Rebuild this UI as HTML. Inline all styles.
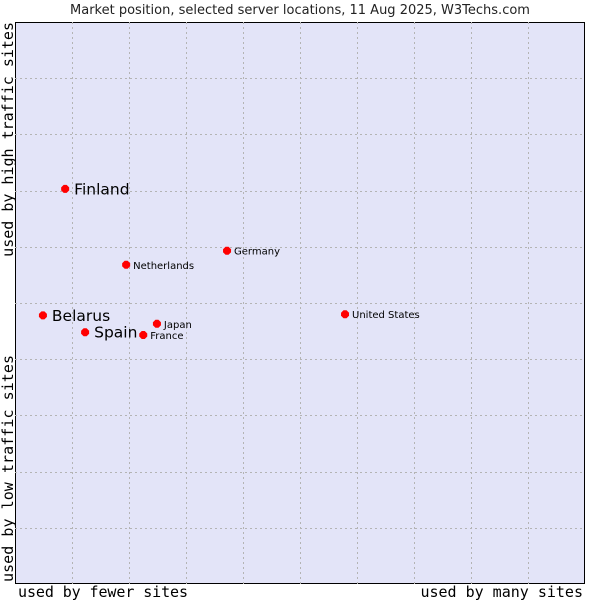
<!DOCTYPE html>
<html><head><meta charset="utf-8"><style>
body{margin:0;background:#fff;}
svg{display:block;font-family:"DejaVu Sans","Liberation Sans",sans-serif;}
</style></head><body>
<svg id="chart" width="600" height="600">
<text x="300" y="14" text-anchor="middle" font-size="13" fill="#222">Market position, selected server locations, 11 Aug 2025, W3Techs.com</text>
<rect x="15.5" y="22.5" width="569" height="561" fill="#e3e4f8" stroke="#000"/>
<g id="grid"></g>
<g id="points"></g>
<text x="18" y="597" font-family="DejaVu Sans Mono,Liberation Mono,monospace" font-size="15" textLength="170" fill="#000">used by fewer sites</text>
<text x="583" y="597" text-anchor="end" font-family="DejaVu Sans Mono,Liberation Mono,monospace" font-size="15" fill="#000">used by many sites</text>
<text transform="translate(13,582) rotate(-90)" font-family="DejaVu Sans Mono,Liberation Mono,monospace" font-size="15" textLength="227" fill="#000">used by low traffic sites</text>
<text transform="translate(13,22) rotate(-90)" text-anchor="end" font-family="DejaVu Sans Mono,Liberation Mono,monospace" font-size="15" fill="#000">used by high traffic sites</text>
</svg>
<script>
const countries=["Finland","Netherlands","Germany","Belarus","Spain","Japan","France","United States"];
const xValues=[0.88,1.95,3.72,0.49,1.23,2.49,2.25,5.79];
const yValues=[7.03,5.68,5.93,4.78,4.48,4.63,4.43,4.8];
const bigLabel=[true,false,false,true,true,false,false,false];
const L=15,R=585,T=22,B=584;
const sx=v=>L+v*(R-L)/10, sy=v=>B-v*(B-T)/10;
const ns="http://www.w3.org/2000/svg";
const grid=document.getElementById('grid');
for(let i=1;i<10;i++){
  const v=document.createElementNS(ns,'line');
  v.setAttribute('x1',Math.round(sx(i))+0.5);v.setAttribute('x2',Math.round(sx(i))+0.5);
  v.setAttribute('y1',T);v.setAttribute('y2',B);
  v.setAttribute('stroke','#b4b4b4');v.setAttribute('stroke-dasharray','2,3');
  
  
  grid.appendChild(v);
  const h=document.createElementNS(ns,'line');
  h.setAttribute('y1',Math.round(sy(i))+0.5);h.setAttribute('y2',Math.round(sy(i))+0.5);
  h.setAttribute('x1',L);h.setAttribute('x2',R);
  h.setAttribute('stroke','#b4b4b4');h.setAttribute('stroke-dasharray','2,3');
  
  
  grid.appendChild(h);
}
const pts=document.getElementById('points');
countries.forEach((c,i)=>{
  const x=sx(xValues[i]),y=sy(yValues[i]);
  const d=document.createElementNS(ns,'path');
  d.setAttribute('d',`M${x-4} ${y-1.5}L${x-1.5} ${y-4}L${x+1.5} ${y-4}L${x+4} ${y-1.5}L${x+4} ${y+1.5}L${x+1.5} ${y+4}L${x-1.5} ${y+4}L${x-4} ${y+1.5}Z`);
  d.setAttribute('fill','#ff0000');
  
  
  pts.appendChild(d);
  const t=document.createElementNS(ns,'text');
  t.setAttribute('x',x+(bigLabel[i]?9:7));
  t.setAttribute('y',y+(bigLabel[i]?5.5:4));
  t.setAttribute('font-size',bigLabel[i]?15.5:10);
  t.setAttribute('fill','#000');
  t.textContent=c;
  
  
  pts.appendChild(t);
});
</script>
</body></html>
